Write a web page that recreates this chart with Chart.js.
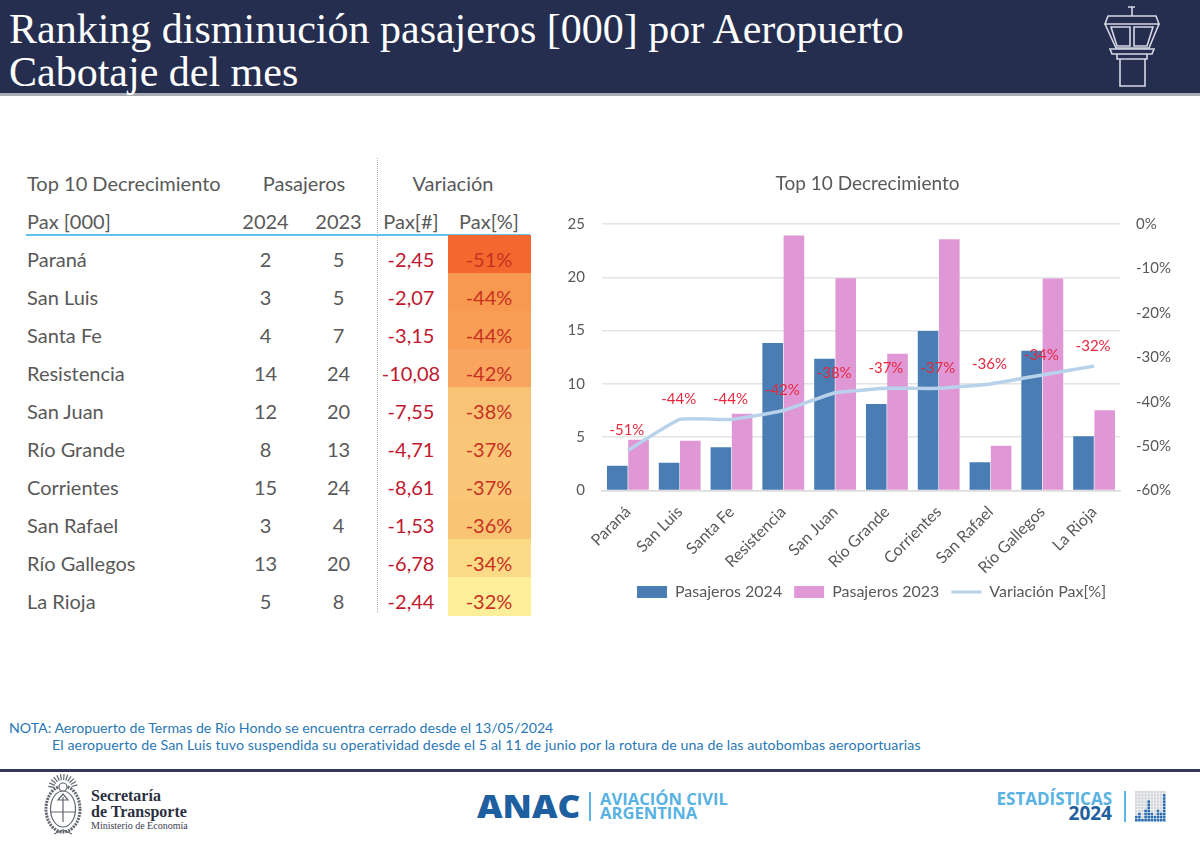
<!DOCTYPE html>
<html lang="es">
<head>
<meta charset="utf-8">
<title>Ranking disminución pasajeros</title>
<script src="https://cdn.jsdelivr.net/npm/chart.js@4/dist/chart.umd.min.js"></script>
<style>
  html, body { margin: 0; padding: 0; background: #fff; }
  #page { position: relative; width: 1200px; height: 845px; overflow: hidden; font-family: Lato, sans-serif; color: #595959; }
  #page > * { position: absolute; }

  /* Header band */
  #band { left: 0; top: 0; width: 1200px; height: 93px; background: #262e50; border-bottom: 3px solid #a9abb2; }
  .headline { left: 9px; font: 42px/44px "Liberation Serif", serif; color: #fff; white-space: nowrap; }

  /* Table */
  .cell { font-size: 20px; line-height: 24px; height: 24px; white-space: nowrap; }
  .ctr { transform: translateX(-50%); }
  .heat { left: 448px; width: 83px; height: 38.1px; }
  #rule { left: 26px; top: 234px; width: 504px; height: 1.5px; background: #62c3ea; }
  #divider { left: 376.5px; top: 158px; height: 455px; border-left: 1px dotted #b5b5b5; }
  #chartBox { left: 550px; top: 160px; width: 635px; height: 460px; }

  /* Notes and footer */
  .note { font-size: 14.2px; line-height: 16px; color: #2a78b5; white-space: nowrap; }
  #footRule { left: 0; top: 769px; width: 1200px; height: 2.5px; background: #34365c; }
  .sans { font-family: "Open Sans", sans-serif; white-space: nowrap; }
</style>
</head>
<body>
<div id="page">
  <div id="band"></div>
  <div class="headline" style="top:7px">Ranking disminución pasajeros [000] por Aeropuerto</div>
  <div class="headline" style="top:50px">Cabotaje del mes</div>

  <svg style="left:1095px;top:0" width="75" height="95" viewBox="1095 0 75 95" fill="none" stroke="#d5d8e4" stroke-width="1.6">
    <path d="M1128 7h7M1132 7v9M1108 16h48l3 8H1105zM1105 24l11 24h33l10-24"/>
    <path d="M1111 27h19v19h-13zM1134 27h19l-6 19h-13zM1110 49h44l-2 5h-40zM1117 54h30v5h-30zM1120 59h25v27h-25z"/>
  </svg>

  <div id="divider"></div>
  <div id="rule"></div>

  <div id="chartBox"><canvas id="chart" width="635" height="460"></canvas></div>

  <div class="note" style="left:9px;top:720px">NOTA: Aeropuerto de Termas de Río Hondo se encuentra cerrado desde el 13/05/2024</div>
  <div class="note" style="left:52px;top:737px;letter-spacing:0.095px">El aeropuerto de San Luis tuvo suspendida su operatividad desde el 5 al 11 de junio por la rotura de una de las autobombas aeroportuarias</div>
  <div id="footRule"></div>

  <!-- Emblem -->
  <svg style="left:40px;top:772px" width="46" height="68" viewBox="0 0 46 68" fill="none" stroke="#62666f" stroke-width="1.2">
    <g id="rays"></g>
    <ellipse cx="23" cy="37" rx="17" ry="23" stroke-width="3" stroke-dasharray="2 1"/>
    <ellipse cx="23" cy="37" rx="12.5" ry="18"/>
    <path d="M11 40h24M23 25v25M18 28l5-6 5 6z"/>
    <path d="M14 62l9-4 9 4"/>
    <circle cx="23" cy="15" r="4" fill="#fff"/>
  </svg>
  <div style="left:91px;top:788px;font:bold 16px/16px 'Liberation Serif',serif;color:#2b2f3f;white-space:nowrap">Secretaría<br>de Transporte</div>
  <div style="left:91px;top:820px;font:10px/11px 'Liberation Serif',serif;color:#3d4150;white-space:nowrap">Ministerio de Economía</div>

  <div class="sans" style="left:477px;top:787px;font-size:32px;line-height:38px;font-weight:800;color:#1d5f9f;transform-origin:0 0;transform:scaleX(1.1)">ANAC</div>
  <div style="left:589px;top:792px;width:1.5px;height:29px;background:#5ab4e4"></div>
  <div class="sans" style="left:600px;top:792px;font-size:16.6px;line-height:14px;font-weight:700;color:#58b2e2">AVIACIÓN CIVIL<br>ARGENTINA</div>

  <div class="sans" style="right:88px;top:792px;font-size:17px;line-height:14px;font-weight:700;color:#58b2e2;text-align:right">ESTADÍSTICAS<br><span style="color:#1d5f9f;font-size:19px">2024</span></div>
  <div style="left:1124px;top:791px;width:1.5px;height:31px;background:#5ab4e4"></div>
  <svg id="gridIcon" style="left:1135px;top:791px" width="31" height="31"></svg>
</div>

<script>
// Chart and table data
const airports = ['Paraná', 'San Luis', 'Santa Fe', 'Resistencia', 'San Juan', 'Río Grande', 'Corrientes', 'San Rafael', 'Río Gallegos', 'La Rioja'];
const pax2024 = [2.32, 2.60, 4.05, 13.83, 12.35, 8.12, 14.96, 2.66, 13.10, 5.08];
const pax2023 = [4.77, 4.67, 7.20, 23.91, 19.90, 12.83, 23.57, 4.19, 19.88, 7.52];
const varPax = [-2.45, -2.07, -3.15, -10.08, -7.55, -4.71, -8.61, -1.53, -6.78, -2.44];
const varPct = [-51, -44, -44, -42, -38, -37, -37, -36, -34, -32];
const leftTicks = [0, 5, 10, 15, 20, 25];
const rightTicks = [-60, -50, -40, -30, -20, -10, 0];
const seriesNames = ['Pasajeros 2024', 'Pasajeros 2023', 'Variación Pax[%]'];

const heatColors = ['#f4682f', '#f7994f', '#f89e55', '#f9a55f', '#f9c376', '#f9c777', '#f9c777', '#f9c474', '#fbdb85', '#fdee9a'];
const page = document.getElementById('page');

function addCell(text, x, y, center, color) {
  const d = document.createElement('div');
  d.className = 'cell' + (center ? ' ctr' : '');
  d.textContent = text;
  d.style.left = x + 'px';
  d.style.top = (y - 13) + 'px';
  if (color) d.style.color = color;
  page.appendChild(d);
}

// Table headers
addCell('Top 10 Decrecimiento', 27, 184);
addCell('Pasajeros', 304, 184, true);
addCell('Variación', 453, 184, true);
addCell('Pax [000]', 27, 222);
addCell('2024', 265.5, 222, true);
addCell('2023', 338.5, 222, true);
addCell('Pax[#]', 411, 222, true);
addCell('Pax[%]', 489, 222, true);

// Table rows
airports.forEach((name, i) => {
  const y = 260 + i * 38.05;
  const h = document.createElement('div');
  h.className = 'heat';
  h.style.top = (235 + i * 38.05) + 'px';
  h.style.background = heatColors[i];
  page.appendChild(h);
  addCell(name, 27, y);
  addCell(String(Math.round(pax2024[i])), 265.5, y, true);
  addCell(String(Math.round(pax2023[i])), 338.5, y, true);
  addCell(varPax[i].toFixed(2).replace('.', ','), 411, y, true, '#c0182f');
  addCell(varPct[i] + '%', 489, y, true, '#c9301f');
});

// Footer statistics icon
const icon = document.getElementById('gridIcon');
const iconBars = [2, 3, 1, 4, 7, 3, 2, 4, 3, 9];
let cells = '';
iconBars.forEach((n, c) => {
  for (let r = 0; r < 10; r++) {
    const on = r >= 10 - n;
    cells += `<rect x="${c * 3.1}" y="${r * 3.1}" width="2.6" height="2.6" fill="${on ? '#2a6cae' : '#d5d6da'}"/>`;
  }
});
icon.innerHTML = cells;

// Emblem sun rays
let rays = '';
for (let a = -80; a <= 80; a += 14) {
  const t = a * Math.PI / 180;
  rays += `<line x1="${23 + 9 * Math.sin(t)}" y1="${17 - 9 * Math.cos(t)}" x2="${23 + 15 * Math.sin(t)}" y2="${17 - 15 * Math.cos(t)}"/>`;
}
document.getElementById('rays').innerHTML = rays;

const legendCenterY = 431;

// Percent labels above the line, legend nudged under the rotated ticks
const pctLabels = {
  id: 'pctLabels',
  afterLayout(chart) {
    const lg = chart.legend;
    lg.left += 4;
    lg.right += 4;
    const h = lg.bottom - lg.top;
    lg.top = legendCenterY - h / 2;
    lg.bottom = lg.top + h;
  },
  afterDatasetsDraw(chart) {
    const { ctx } = chart;
    const pts = chart.getDatasetMeta(2).data;
    ctx.save();
    ctx.font = '15px Lato';
    ctx.fillStyle = '#e7283f';
    ctx.textAlign = 'center';
    ctx.textBaseline = 'middle';
    pts.forEach((p, i) => ctx.fillText(varPct[i] + '%', p.x - 1, p.y - 20));
    ctx.restore();
  }
};

const legendPoints = ['rect', 'rect', 'line'];
const axisFont = { family: 'Lato', size: 15 };

new Chart(document.getElementById('chart'), {
  type: 'bar',
  data: {
    labels: airports,
    datasets: [
      { label: seriesNames[0], data: pax2024, backgroundColor: '#4a7db3', yAxisID: 'y', order: 1, categoryPercentage: 0.82, barPercentage: 0.97 },
      { label: seriesNames[1], data: pax2023, backgroundColor: '#e097d6', yAxisID: 'y', order: 1, categoryPercentage: 0.82, barPercentage: 0.97 },
      { type: 'line', label: seriesNames[2], data: varPct, borderColor: '#b7d2ea', backgroundColor: '#b7d2ea', borderWidth: 3.5, pointRadius: 0, tension: 0.12, yAxisID: 'y1', order: 0 }
    ]
  },
  options: {
    responsive: false,
    animation: false,
    devicePixelRatio: 1,
    layout: { padding: { bottom: 4 } },
    plugins: {
      tooltip: { enabled: false },
      title: {
        display: true,
        text: 'Top 10 Decrecimiento',
        color: '#595959',
        font: { family: 'Lato', size: 19, weight: 'normal' },
        padding: { top: 12, bottom: 29.2 }
      },
      legend: {
        position: 'bottom',
        labels: {
          color: '#595959',
          font: { family: 'Lato', size: 16 },
          usePointStyle: true,
          pointStyleWidth: 30,
          boxHeight: 12,
          padding: 12,
          sort: (a, b) => a.datasetIndex - b.datasetIndex,
          generateLabels(chart) {
            return Chart.defaults.plugins.legend.labels.generateLabels(chart)
              .map(item => Object.assign(item, {
                pointStyle: legendPoints[item.datasetIndex],
                strokeStyle: chart.data.datasets[item.datasetIndex].backgroundColor,
                lineWidth: item.datasetIndex === 2 ? 3 : 0
              }));
          }
        }
      }
    },
    scales: {
      x: {
        grid: { display: false },
        border: { color: '#dcdcdc', width: 1.5 },
        ticks: { color: '#595959', font: { family: 'Lato', size: 16 }, minRotation: 45, maxRotation: 45, padding: 4 },
        afterFit(scale) { scale.height = 87.5; }
      },
      y: {
        position: 'left',
        min: 0,
        max: 25,
        grid: { color: '#e4e4e4', lineWidth: 1.5, drawTicks: false },
        border: { display: false },
        afterBuildTicks(scale) { scale.ticks = leftTicks.map(v => ({ value: v })); },
        ticks: { color: '#595959', font: axisFont, padding: 17 },
        afterFit(scale) { scale.width = 52; }
      },
      y1: {
        position: 'right',
        min: -60,
        max: 0,
        grid: { display: false, drawTicks: false },
        border: { display: false },
        afterBuildTicks(scale) { scale.ticks = rightTicks.map(v => ({ value: v })); },
        ticks: { color: '#595959', font: axisFont, padding: 16, callback: v => v + '%' },
        afterFit(scale) { scale.width = 65; }
      }
    }
  },
  plugins: [pctLabels]
});
</script>
</body>
</html>
